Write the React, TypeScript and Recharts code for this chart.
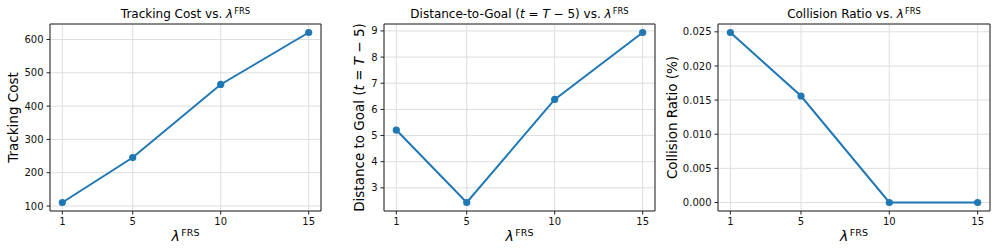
import React from 'react';
import { LineChart, Line, XAxis, YAxis, CartesianGrid, ReferenceArea, Label } from 'recharts';

const lambdaValues = [1, 5, 10, 15];
const trackingCost = [110.5, 245.5, 465, 621];
const distanceToGoal = [5.21, 2.44, 6.38, 8.94];
const collisionRatio = [0.0249, 0.0156, 0, 0];
const xTicks = [1, 5, 10, 15];
const trackingTicks = [100, 200, 300, 400, 500, 600];
const distanceTicks = [3, 4, 5, 6, 7, 8, 9];
const collisionTicks = [0, 0.005, 0.01, 0.015, 0.02, 0.025];

const FONT = '"DejaVu Sans", sans-serif';
const BLUE = '#1f77b4';
const SPINE = '#222';
const GRID = '#dedede';

function padded(vals: number[]): [number, number] {
  const mn = Math.min(...vals);
  const mx = Math.max(...vals);
  const r = mx - mn;
  return [mn - 0.05 * r, mx + 0.05 * r];
}

const xDomain = padded(lambdaValues);

const renderXLabel = (props: any) => {
  const vb = props.viewBox || { x: 0, y: 0, width: 0, height: 0 };
  const cx = vb.x + vb.width / 2;
  const y = vb.y + 30;
  return (
    <text x={cx} y={y} textAnchor="middle" fontFamily={FONT} fill="#000">
      <tspan fontStyle="italic" fontSize={14}>λ</tspan>
      <tspan fontSize={9.5} dy={-5.5} dx={1.5}>FRS</tspan>
    </text>
  );
};

const makeYLabel = (lx: number, kind: number) => (props: any) => {
  const vb = props.viewBox || { x: 0, y: 0, width: 0, height: 0 };
  const cy = vb.y + vb.height / 2;
  let content: React.ReactNode;
  if (kind === 0) content = 'Tracking Cost';
  else if (kind === 1)
    content = (
      <>
        <tspan>Distance to Goal (</tspan>
        <tspan fontStyle="italic">t</tspan>
        <tspan> = </tspan>
        <tspan fontStyle="italic">T</tspan>
        <tspan> − 5)</tspan>
      </>
    );
  else content = 'Collision Ratio (%)';
  return (
    <text
      x={lx}
      y={cy}
      transform={`rotate(-90 ${lx} ${cy})`}
      textAnchor="middle"
      dominantBaseline="central"
      fontFamily={FONT}
      fontSize={13.5}
      fill="#000"
    >
      {content}
    </text>
  );
};

type PanelProps = {
  left: number;
  width: number;
  yWidth: number;
  right: number;
  values: number[];
  ticks: number[];
  fmt: (v: number) => string;
  yLabel: (p: any) => React.ReactNode;
  title: React.ReactNode;
};

const Panel = ({ left, width, yWidth, right, values, ticks, fmt, yLabel, title }: PanelProps) => {
  const data = lambdaValues.map((x, i) => ({ x, y: values[i] }));
  const yDomain = padded(values);
  const plotCenter = yWidth + (width - yWidth - right) / 2;
  return (
    <div style={{ position: 'absolute', left, top: 0, width, height: 252 }}>
      <div
        style={{
          position: 'absolute',
          top: 7,
          left: plotCenter - 200,
          width: 400,
          textAlign: 'center',
          fontFamily: FONT,
          fontSize: 12,
          lineHeight: '14px',
          color: '#000',
          whiteSpace: 'nowrap',
        }}
      >
        {title}
      </div>
      <LineChart
        width={width}
        height={252}
        data={data}
        margin={{ top: 24, right, bottom: 11, left: 0 }}
        style={{ position: 'absolute', left: 0, top: 0 }}
      >
        <CartesianGrid stroke={GRID} strokeWidth={1} />
        <XAxis
          dataKey="x"
          type="number"
          domain={xDomain}
          ticks={xTicks}
          allowDataOverflow
          height={30}
          axisLine={false}
          tickLine={{ stroke: SPINE }}
          tickSize={3.5}
          tickMargin={3}
          tick={{ fontSize: 10, fontFamily: FONT, fill: '#111' }}
        >
          <Label content={renderXLabel} />
        </XAxis>
        <YAxis
          type="number"
          domain={yDomain}
          ticks={ticks}
          allowDataOverflow
          width={yWidth}
          axisLine={false}
          tickLine={{ stroke: SPINE }}
          tickSize={3.5}
          tickMargin={3}
          tickFormatter={fmt}
          tick={{ fontSize: 10, fontFamily: FONT, fill: '#111' }}
        >
          <Label content={yLabel} />
        </YAxis>
        <ReferenceArea
          x1={xDomain[0]}
          x2={xDomain[1]}
          y1={yDomain[0]}
          y2={yDomain[1]}
          fill="none"
          stroke={SPINE}
          strokeWidth={1}
          ifOverflow="visible"
        />
        <Line
          type="linear"
          dataKey="y"
          stroke={BLUE}
          strokeWidth={2}
          dot={{ r: 3.6, fill: BLUE, stroke: BLUE, strokeWidth: 0 }}
          activeDot={false}
          isAnimationActive={false}
        />
      </LineChart>
    </div>
  );
};

const Lam = () => (
  <>
    <i>λ</i>
    <span style={{ fontSize: '0.7em', position: 'relative', top: '-0.5em', marginLeft: 1 }}>FRS</span>
  </>
);

export default function App() {
  return (
    <div style={{ position: 'absolute', left: 0, top: 0, width: 996, height: 252, background: '#fff' }}>
      <Panel
        left={0}
        width={330}
        yWidth={50}
        right={9}
        values={trackingCost}
        ticks={trackingTicks}
        fmt={(v) => String(v)}
        yLabel={makeYLabel(13.3, 0)}
        title={<>Tracking Cost vs. <Lam /></>}
      />
      <Panel
        left={330}
        width={330}
        yWidth={54}
        right={5}
        values={distanceToGoal}
        ticks={distanceTicks}
        fmt={(v) => String(v)}
        yLabel={makeYLabel(29, 1)}
        title={
          <>
            Distance-to-Goal (<i>t</i> = <i>T</i> − 5) vs. <Lam />
          </>
        }
      />
      <Panel
        left={660}
        width={336}
        yWidth={58}
        right={6}
        values={collisionRatio}
        ticks={collisionTicks}
        fmt={(v) => v.toFixed(3)}
        yLabel={makeYLabel(11.7, 2)}
        title={<>Collision Ratio vs. <Lam /></>}
      />
    </div>
  );
}
